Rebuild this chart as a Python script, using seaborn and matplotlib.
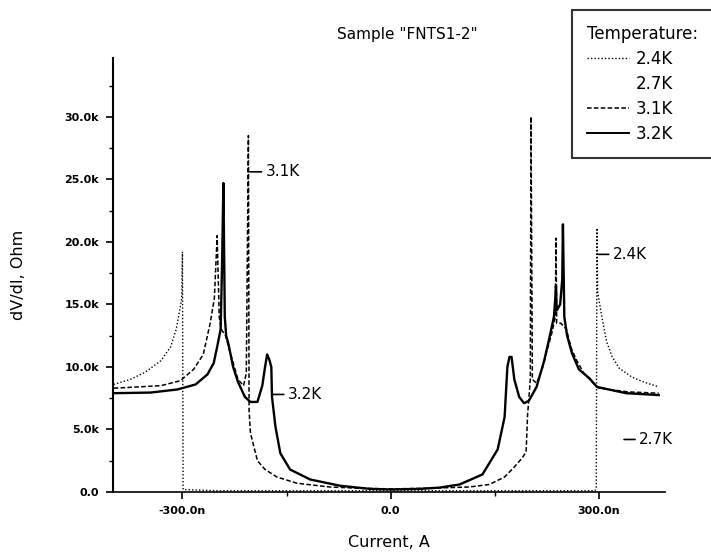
import numpy as np
import pandas as pd
import seaborn as sns
import matplotlib
matplotlib.use("Agg")
from matplotlib import pyplot as plt
from matplotlib.lines import Line2D
from matplotlib.ticker import FuncFormatter, MultipleLocator

# current in nA, dV/dI in kOhm
i_24 = [-399, -375, -353, -331, -317, -309, -304, -301, -300, -299, -250, -150, 0,
        150, 250, 294, 296, 297, 298, 304, 311, 319, 329, 347, 364, 386]
r_24 = [8.6, 9.0, 9.6, 10.5, 11.6, 13.0, 14.5, 15.5, 19.2, 0.2, 0.1, 0.1, 0.1,
        0.1, 0.1, 0.1, 0.3, 21.1, 16.0, 14.0, 12.0, 10.8, 9.9, 9.2, 8.8, 8.4]

i_31 = [-399, -331, -303, -284, -270, -260, -254, -250, -247, -244, -238, -231,
        -220, -212, -208, -205, -204, -202, -192, -181, -164, -135, -88, -44, 0,
        56, 113, 142, 164, 178, 189, 195, 197, 201, 202, 204, 210, 218, 224,
        232, 237, 238, 239, 245, 253, 260, 267, 278, 290, 300, 343, 386]
r_31 = [8.3, 8.5, 8.9, 9.8, 11.0, 13.5, 15.5, 20.5, 14.0, 13.0, 12.5, 11.1,
        9.0, 8.5, 9.5, 28.5, 6.5, 4.7, 2.5, 1.8, 1.2, 0.7, 0.4, 0.3, 0.25,
        0.3, 0.4, 0.6, 1.2, 2.0, 2.7, 3.2, 6.1, 9.0, 30.0, 9.0, 8.7, 9.8, 11.1,
        12.7, 14.0, 20.3, 13.5, 13.5, 13.0, 11.5, 10.6, 9.5, 8.8, 8.3, 8.0, 7.9]

i_32 = [-399, -346, -307, -281, -264, -255, -250, -245, -243, -241, -239, -237,
        -234, -227, -220, -210, -202, -192, -185, -181, -178, -175, -172, -171,
        -166, -159, -145, -116, -73, -30, 0, 42, 70, 99, 132, 154, 164, 168,
        171, 174, 178, 185, 192, 199, 210, 221, 228, 235, 237, 238, 239, 244,
        247, 248, 250, 254, 261, 271, 286, 297, 339, 386]
r_32 = [7.9, 7.95, 8.2, 8.6, 9.4, 10.3, 11.6, 13.0, 18.0, 24.7, 14.0, 12.5,
        11.9, 10.0, 8.8, 7.6, 7.2, 7.2, 8.5, 10.0, 11.0, 10.6, 10.0, 7.6,
        5.2, 3.1, 1.8, 1.0, 0.5, 0.25, 0.2, 0.25, 0.35, 0.6, 1.4, 3.4, 6.0, 10.0,
        10.8, 10.8, 9.0, 7.6, 7.1, 7.3, 8.4, 10.5, 12.2, 14.0, 15.5, 16.5, 14.5, 15.0,
        17.0, 21.4, 14.0, 12.5, 11.1, 9.8, 9.1, 8.4, 7.9, 7.75]

temps = ["2.4K", "2.7K", "3.1K", "3.2K"]

plt.rcParams["font.family"] = ["DejaVu Sans"]

fig = plt.figure(figsize=(7.11, 5.57), dpi=100)
ax = fig.add_axes([113 / 711, 1 - 492 / 557, 552 / 711, 434 / 557])

series = {"2.4K": (i_24, r_24), "3.1K": (i_31, r_31), "3.2K": (i_32, r_32)}
styles = {"2.4K": dict(ls=(0, (1, 1.5)), lw=1.0),
          "3.1K": dict(ls=(0, (3, 1.5)), lw=1.1),
          "3.2K": dict(ls="-", lw=1.7)}

for name, (cur, res) in series.items():
    df = pd.DataFrame({"I": np.array(cur) * 1e-9, "R": np.array(res) * 1e3})
    sns.lineplot(data=df, x="I", y="R", ax=ax, color="black", sort=False,
                 estimator=None, linestyle=styles[name]["ls"],
                 linewidth=styles[name]["lw"])

ax.set_xlim(-400e-9, 395e-9)
ax.set_ylim(0, 34700)
for s in ["top", "right"]:
    ax.spines[s].set_visible(False)
ax.spines["left"].set_linewidth(1.5)
ax.spines["bottom"].set_linewidth(1.2)

ax.set_xticks([-300e-9, 0, 300e-9])
ax.xaxis.set_minor_locator(MultipleLocator(150e-9))
ax.yaxis.set_major_locator(MultipleLocator(5000))
ax.yaxis.set_minor_locator(MultipleLocator(2500))


def xfmt(v, pos):
    if abs(v) < 1e-12:
        return "0.0"
    return f"{v * 1e9:.1f}n"


def yfmt(v, pos):
    if abs(v) < 1e-6:
        return "0.0"
    return f"{v / 1000:.1f}k"


ax.xaxis.set_major_formatter(FuncFormatter(xfmt))
ax.yaxis.set_major_formatter(FuncFormatter(yfmt))
ax.tick_params(axis="both", which="major", direction="out", length=5, width=1.2,
               labelsize=8, pad=5)
ax.tick_params(axis="both", which="minor", direction="out", length=3, width=1)
for lbl in ax.get_xticklabels() + ax.get_yticklabels():
    lbl.set_fontweight("bold")

ax.set_xlabel("Current, A", fontsize=11.5, labelpad=14)
ax.set_ylabel("dV/dI, Ohm", fontsize=11.5, labelpad=28)
fig.text(407 / 711, 1 - 35 / 557, 'Sample "FNTS1-2"', ha="center", va="center",
         fontsize=11)

# curve labels
lab = dict(fontsize=11, va="center", ha="left",
           arrowprops=dict(arrowstyle="-", color="black", lw=1.2, shrinkA=1, shrinkB=0))
ax.annotate("3.1K", xy=(-203e-9, 25600), xytext=(-180e-9, 25600), **lab)
ax.annotate("3.2K", xy=(-169e-9, 7800), xytext=(-148e-9, 7800), **lab)
ax.annotate("2.4K", xy=(299e-9, 19000), xytext=(320e-9, 19000), **lab)
ax.annotate("2.7K", xy=(336e-9, 4200), xytext=(358e-9, 4200), **lab)

handles = [Line2D([], [], color="black", linestyle=styles["2.4K"]["ls"], lw=1.0),
           Line2D([], [], color="white", lw=1.0),
           Line2D([], [], color="black", linestyle=styles["3.1K"]["ls"], lw=1.1),
           Line2D([], [], color="black", lw=1.4)]
leg = fig.legend(handles, temps, title="Temperature:", loc="upper left",
                 bbox_to_anchor=(572 / 711, 1 - 10 / 557), borderaxespad=0,
                 fontsize=12, title_fontsize=12, frameon=True, fancybox=False,
                 handlelength=2.5, handletextpad=0.4, labelspacing=0.42,
                 borderpad=0.9, alignment="left")
leg.get_frame().set_edgecolor("black")
leg.get_frame().set_linewidth(1.5)

fig.savefig("out.png", dpi=100)
